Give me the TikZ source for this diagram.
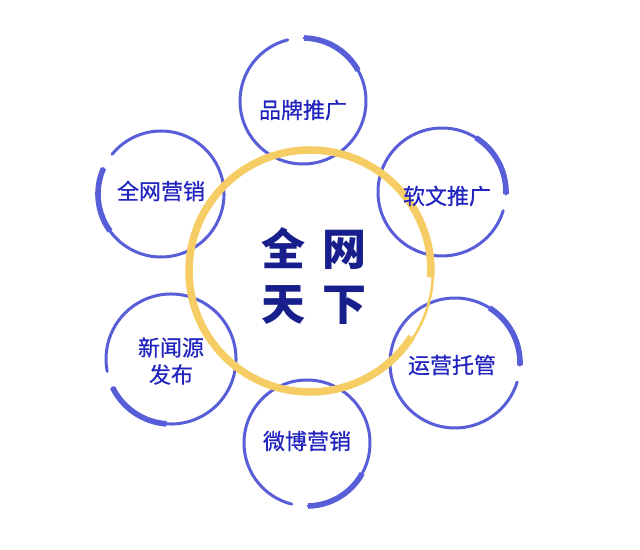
\documentclass[tikz,border=0pt]{standalone}
\usepackage{fontspec}
\newfontfamily\cjk{Noto Sans CJK SC}
\newfontfamily\cjkmid[FakeBold=0.6]{Noto Sans CJK SC}
\usetikzlibrary{positioning}

\definecolor{ringblue}{RGB}{88,94,216}
\definecolor{textblue}{RGB}{34,36,190}
\definecolor{titleblue}{RGB}{24,30,140}
\definecolor{ringgold}{RGB}{245,205,100}

% brush ring: #1 centre, #2 radius, #3 gap angle, #4 direction (1 or -1)
\newcommand\brushring[4]{%
	\pgfmathsetmacro\ringstart{#3+6*#4}%
	\pgfmathsetmacro\ringlong{345*#4}%
	\pgfmathsetmacro\ringshort{60*#4}%
	\draw [ringthin] ([shift={(\ringstart:#2)}]#1) arc[start angle=\ringstart, delta angle=\ringlong, radius=#2];
	\draw [ringthick] ([shift={(\ringstart:#2)}]#1) arc[start angle=\ringstart, delta angle=\ringshort, radius=#2];
}

\begin{document}
\begin{tikzpicture}[
	x=1pt, y=1pt,
	ringthin/.style={
		draw=ringblue,
		line width=3pt,
		line cap=round
		},
	ringthick/.style={
		draw=ringblue,
		line width=5.6pt,
		line cap=butt
		},
	item/.style={
		font=\cjkmid\fontsize{22}{27}\selectfont,
		text=textblue,
		align=center,
		inner sep=0pt
		},
	title/.style={
		font=\cjk\bfseries\fontsize{44}{55}\selectfont,
		text=titleblue,
		align=center,
		inner sep=0pt
		}
]
\useasboundingbox (0,0) rectangle (640,549);

% Centres
\coordinate (c brand) at (303,448);
\coordinate (c allnet) at (161,355);
\coordinate (c soft) at (442,357);
\coordinate (c news) at (171,190);
\coordinate (c ops) at (455,186);
\coordinate (c weibo) at (307,106);
\coordinate (c hub) at (310,278);

% Rings
\brushring{c brand}{63}{95}{-1}
\brushring{c allnet}{63}{150}{1}
\brushring{c soft}{64}{-8}{1}
\brushring{c news}{65}{200}{1}
\brushring{c ops}{65}{-8}{1}
\brushring{c weibo}{63}{-95}{1}

% Hub ring
\draw [ringgold, line width=7.5pt] ([shift={(-3:121)}]c hub) arc[start angle=-3, delta angle=330, radius=121];
\draw [ringgold, line width=2.6pt, line cap=round] ([shift={(-36:123)}]c hub) arc[start angle=-36, delta angle=44, radius=123];

% Labels
\node [item] (brand) at ([yshift=-9]c brand) {品牌推广};
\node [item] (allnet) at ([yshift=3]c allnet) {全网营销};
\node [item] (soft) at ([shift={(5,-4)}]c soft) {软文推广};
\node [item] (news) at ([yshift=-2]c news) {新闻源\\发布};
\node [item] (ops) at ([shift={(-3,-2)}]c ops) {运营托管};
\node [item] (weibo) at ([yshift=2]c weibo) {微博营销};

% Title
\node [title] (hub) at (314,273) {全\hspace{18pt}网\\天\hspace{18pt}下};

\end{tikzpicture}
\end{document}
